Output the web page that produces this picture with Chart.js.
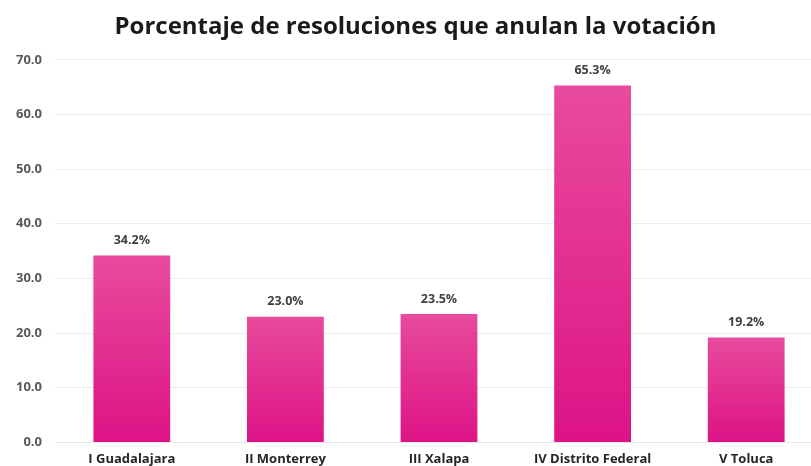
<!DOCTYPE html>
<html><head><meta charset="utf-8">
<script src="https://cdn.jsdelivr.net/npm/chart.js@4"></script>
<style>
html,body{margin:0;padding:0;background:#fff;overflow:hidden;width:811px;height:466px}
#wrap{position:relative;width:842px;height:476px}
</style></head><body>
<div id="wrap"><canvas id="c" width="842" height="476"></canvas></div>
<script>
const categories = ["I Guadalajara","II Monterrey","III Xalapa","IV Distrito Federal","V Toluca"];
const values = [34.2, 23.0, 23.5, 65.3, 19.2];
const titleText = "Porcentaje de resoluciones que anulan la votación";

const valueLabels = {
  id: 'valueLabels',
  afterDatasetsDraw(chart) {
    const ctx = chart.ctx;
    const meta = chart.getDatasetMeta(0);
    ctx.save();
    ctx.font = 'bold 12.5px "Open Sans", sans-serif';
    ctx.fillStyle = '#404040';
    ctx.textAlign = 'center';
    ctx.textBaseline = 'middle';
    meta.data.forEach((bar, i) => {
      ctx.fillText(values[i].toFixed(1) + '%', bar.x, bar.y - 15);
    });
    ctx.restore();
  }
};

new Chart(document.getElementById('c'), {
  type: 'bar',
  data: {
    labels: categories,
    datasets: [{
      data: values,
      backgroundColor(ctx) {
        const chart = ctx.chart;
        const y = chart.scales.y;
        if (!chart.chartArea || !y || ctx.parsed === undefined) return '#e2208d';
        const top = y.getPixelForValue(ctx.parsed.y);
        const base = y.getPixelForValue(0);
        if (!isFinite(top) || !isFinite(base) || top === base) return '#e2208d';
        const g = chart.ctx.createLinearGradient(0, top, 0, base);
        g.addColorStop(0, '#e84b9d');
        g.addColorStop(1, '#dd1386');
        return g;
      },
      borderWidth: 0,
      categoryPercentage: 1.0,
      barPercentage: 0.5
    }]
  },
  options: {
    responsive: false,
    animation: false,
    layout: { padding: { left: 8, right: 19, top: 0, bottom: 0 } },
    plugins: {
      legend: { display: false },
      tooltip: { enabled: false },
      title: {
        display: true,
        text: titleText,
        color: '#1a1a1a',
        font: { family: '"Open Sans", sans-serif', size: 24, weight: 'bold' },
        padding: { top: 13, bottom: 18 }
      }
    },
    scales: {
      x: {
        grid: { display: false, drawTicks: false },
        border: { display: true, color: '#e6e6e6' },
        ticks: {
          color: '#262626',
          font: { family: '"Open Sans", sans-serif', size: 13, weight: 'bold' },
          padding: 9,
          maxRotation: 0
        }
      },
      y: {
        min: 0, max: 70,
        grid: { color: '#ececec', drawTicks: false },
        border: { display: false },
        afterFit(scale) { scale.width = 47; },
        ticks: {
          stepSize: 10,
          color: '#595959',
          font: { family: '"Open Sans", sans-serif', size: 13, weight: 'bold' },
          padding: 13,
          callback: v => Number(v).toFixed(1)
        }
      }
    }
  },
  plugins: [valueLabels]
});
</script>
</body></html>
